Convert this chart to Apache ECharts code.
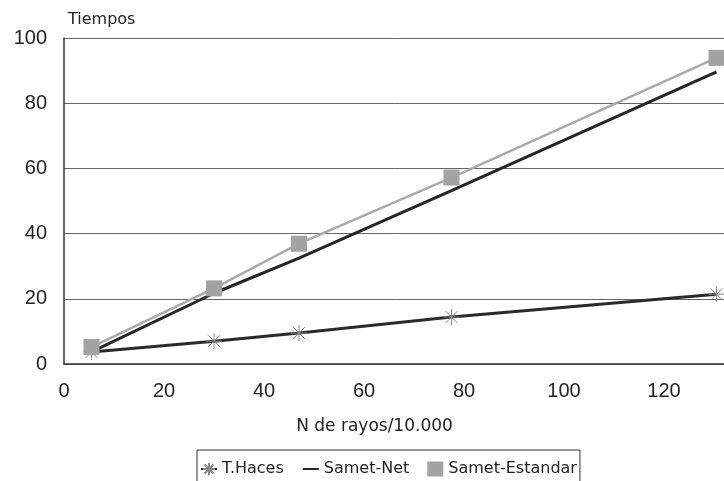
<!DOCTYPE html>
<html>
<head>
<meta charset="utf-8">
<script src="https://cdn.jsdelivr.net/npm/echarts@6/dist/echarts.min.js"></script>
<style>
html,body{margin:0;padding:0;background:#fff;}
#chart{width:724px;height:481px;}
</style>
</head>
<body>
<div id="chart"></div>
<script>
// Data
const xValues = [5.5, 30, 47, 77.5, 130.5];
const tHaces = [3.7, 7.0, 9.5, 14.4, 21.4];
const sametNet = [3.7, 21.7, 32.5, 53.2, 89.6];
const sametEstandar = [5.2, 23.2, 36.9, 57.2, 93.9];
const seriesNames = ['T.Haces', 'Samet-Net', 'Samet-Estandar'];
const xTitle = 'N de rayos/10.000';
const yTitle = 'Tiempos';

const pairs = ys => xValues.map((x, i) => [x, ys[i]]);
const starPath = 'path://M0,-8L0,8M-8,0L8,0M-6,-6L6,6M-6,6L6,-6';

const chart = echarts.init(document.getElementById('chart'), null, {renderer: 'canvas'});
chart.setOption({
  backgroundColor: '#fff',
  animation: false,
  grid: {left: 64, top: 38, width: 700, height: 326, outerBoundsMode: 'none', containLabel: false},
  legend: {
    data: [
      {name: seriesNames[0]},
      {name: seriesNames[1], itemStyle: {opacity: 0, color: 'rgba(0,0,0,0)', borderWidth: 0}},
      {name: seriesNames[2], icon: 'rect'}
    ],
    left: 197, top: 450,
    orient: 'horizontal',
    itemWidth: 16, itemHeight: 15, itemGap: 18,
    padding: [11, 3, 20, 3],
    borderColor: '#333', borderWidth: 1,
    textStyle: {fontFamily: 'DejaVu Sans', fontSize: 16, color: '#222'}
  },
  xAxis: {
    type: 'value', min: 0, max: 140, interval: 20,
    name: xTitle, nameLocation: 'middle', nameGap: 54,
    nameTextStyle: {fontFamily: 'DejaVu Sans', fontSize: 17, color: '#222', padding: [0, 79, 0, 0]},
    axisLine: {show: true, lineStyle: {color: '#333', width: 1.5}},
    axisTick: {show: false},
    splitLine: {show: false},
    axisLabel: {fontFamily: 'Liberation Sans', fontSize: 20, color: '#222', margin: 17}
  },
  yAxis: {
    type: 'value', min: 0, max: 100, interval: 20,
    name: yTitle, nameLocation: 'end', nameGap: 10,
    nameTextStyle: {fontFamily: 'DejaVu Sans', fontSize: 16, color: '#222', align: 'left', verticalAlign: 'bottom', padding: [0, 0, 0, 4]},
    axisLine: {show: true, lineStyle: {color: '#333', width: 1.5}},
    axisTick: {show: false},
    splitLine: {show: true, lineStyle: {color: '#666', width: 1}},
    axisLabel: {fontFamily: 'Liberation Sans', fontSize: 20, color: '#222', margin: 17}
  },
  series: [
    {
      name: seriesNames[0], type: 'line', data: pairs(tHaces),
      symbol: starPath, symbolSize: 16, showAllSymbol: true,
      lineStyle: {color: '#2a2a2a', width: 3},
      itemStyle: {color: '#2a2a2a', borderColor: '#888', borderWidth: 1},
      z: 3
    },
    {
      name: seriesNames[1], type: 'line', data: pairs(sametNet),
      symbol: 'none',
      lineStyle: {color: '#262626', width: 3},
      itemStyle: {color: '#262626'},
      z: 2
    },
    {
      name: seriesNames[2], type: 'line', data: pairs(sametEstandar),
      symbol: 'rect', symbolSize: 16, showAllSymbol: true,
      lineStyle: {color: '#aaaaaa', width: 2.5},
      itemStyle: {color: '#a3a3a3'},
      z: 4
    }
  ]
});
</script>
</body>
</html>
